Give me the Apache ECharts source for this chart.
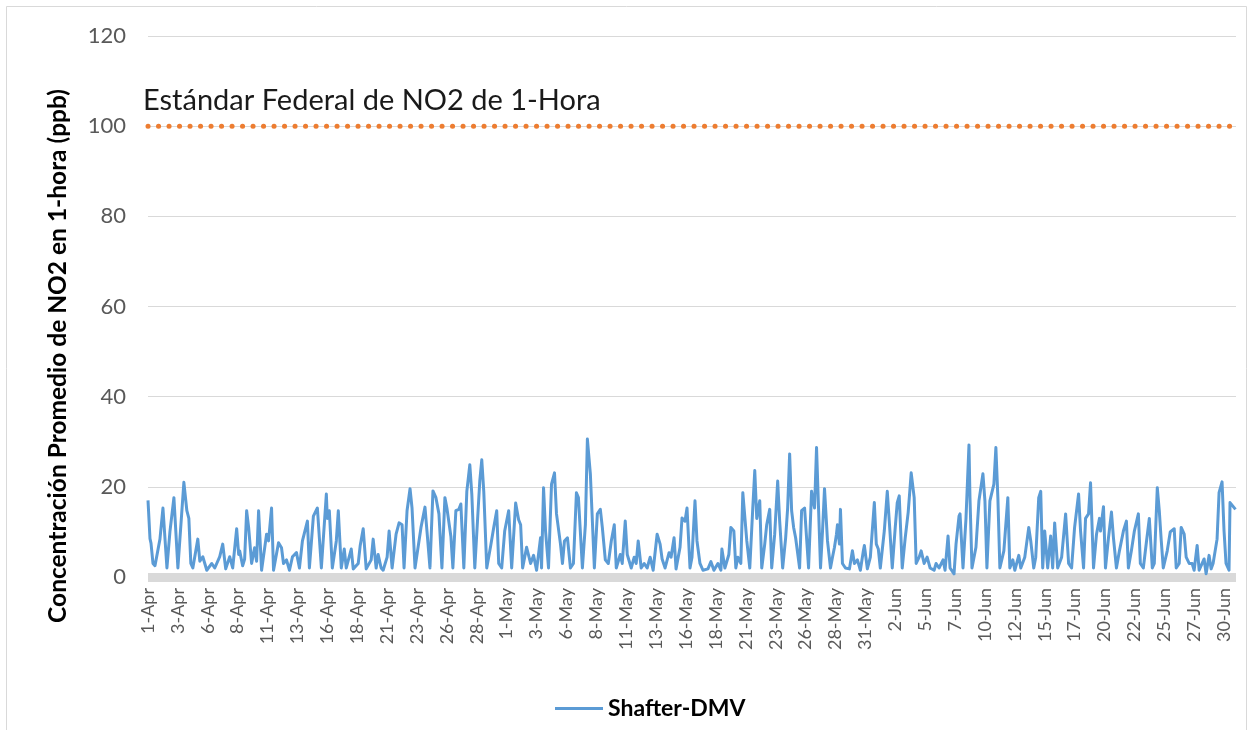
<!DOCTYPE html>
<html>
<head>
<meta charset="utf-8">
<title>Shafter-DMV NO2</title>
<script src="https://cdn.jsdelivr.net/npm/echarts@6/dist/echarts.min.js"></script>
<style>
  html, body { margin: 0; padding: 0; background: #fff; }
  #chart { width: 1252px; height: 730px; }
</style>
</head>
<body>
<div id="chart"></div>
<script>
// hora desde 1-Apr 00:00
const hours = [
  0,4,6,10,14,24,30,38,44,52,60,72,78,82,86,90,100,104,110,118,128,134,144,150,156,164,170,178,182,
  184,190,194,198,202,208,214,218,222,228,238,242,248,252,262,268,272,278,284,290,298,304,310,320,324,332,340,348,358,360,364,370,378,382,
  384,388,394,398,408,412,422,426,432,438,448,452,458,462,468,472,480,484,490,498,504,510,514,520,526,530,536,548,556,560,566,572,578,584,
  590,596,600,608,612,618,624,628,634,640,646,650,656,666,670,674,680,688,694,700,704,710,716,724,730,738,744,748,752,760,768,774,780,
  788,790,794,798,804,810,816,820,828,832,836,842,848,854,860,864,868,872,878,882,888,890,896,902,908,912,918,924,930,936,940,948,952,958,962,970,976,980,
  984,990,996,1002,1008,1014,1022,1028,1032,1038,1046,1050,1056,1060,1068,1072,1078,1082,1088,1092,1098,1102,1108,1114,1124,1130,1136,1144,1150,1152,1158,1166,1170,1176,1180,
  1184,1190,1194,1198,1202,1208,1214,1218,1222,1228,1232,1238,1242,1248,1252,1258,1264,1268,1274,1280,1284,1288,1292,1296,1300,1308,1312,1318,1320,1326,1332,1338,1342,1346,1350,1354,1358,1364,1370,1374,1378,1382,
  1384,1388,1390,1394,1400,1408,1414,1418,1424,1430,1436,1438,1444,1450,1458,1462,1466,1470,1478,1484,1488,1494,1500,1504,1508,1514,1520,1526,1530,1532,1538,1542,1548,1552,1558,1564,1570,1578,1582,
  1588,1596,1600,1606,1610,1618,1622,1628,1630,1636,1642,1648,1650,1654,1662,1668,1676,1680,1684,1690,1698,1702,1706,1710,1718,1726,1730,1736,1740,1748,1752,1760,1768,1772,1778,1782,
  1788,1792,1796,1800,1806,1812,1816,1820,1826,1834,1842,1848,1854,1860,1868,1872,1878,1882,1888,1892,1898,1904,1910,1912,1918,1922,1928,1934,1938,1944,1950,1958,1964,1968,1974,1980,
  1988,1992,1998,2004,2010,2016,2020,2026,2030,2034,2038,2046,2052,2060,2064,2070,2074,2080,2084,2090,2096,2100,2106,2110,2116,2120,2124,2130,2134,2138,2146,2150,2156,2160,2164,2170,2172,2183
]
// NO2 ppb, Shafter-DMV
const no2 = [
  17,8.5,7.5,3,2.5,8.4,15.3,2,10,17.6,2,21,14.7,13,3,2,8.4,3.5,4.5,1.5,3,2,4.5,7.3,1.8,4.5,2,10.7,5,
  5.8,2.5,4,14.7,11,3,6.5,3.5,14.7,1.5,9.5,8,15.3,1.5,7.6,6.5,3,3.8,1.5,4.5,5.4,2,8,12.4,2,13.5,15.3,2,18.4,13,14.7,2,8,14.7,
  14.5,2,6.2,2,6.2,1.8,3,7,10.7,1.8,3.8,8.4,2,5,2,1.5,4.4,10.2,2,9.5,12,11.6,2,14.7,19.6,15.3,2,11,15.5,10.2,2,19.1,17.6,14,
  2,17.6,15.3,9,2,14.7,15,16.2,2,19,24.9,18.4,2,21.3,26,19,2,7,11,14.7,3,2,10.2,14.7,2,16.4,12.7,11.6,2,6.6,3,4.8,1.5,
  8.7,2,19.8,10.2,2,20.6,23.1,14,7.3,3,8,8.7,2,3,18.7,17.6,17.3,2,11.6,30.6,22.8,17.6,2,14,15,11,3.8,3,8,11.6,2,5,3,12.4,5,2,4.4,3,
  8,2,3,2,4.4,1.5,9.5,7.3,4,2,5.4,4.4,8.7,1.8,6.6,13.1,12.4,15.3,2,4.4,16.9,8,3,1.5,1.8,3.4,1.5,3,1.5,6.2,2,5,11,10.2,2,
  4.4,3,18.7,18.4,8,2,15.3,23.6,13,16.9,2,7.3,11.6,15,2,9.5,21.3,12.4,2,8.7,15.3,27.3,14.7,11,8.7,2,14.7,15.3,15.6,2,19,15.3,28.7,15.3,2,10.2,19.6,8,2,4.4,6.6,9.5,
  11.6,7.3,15,3,2,1.8,5.8,3,3.8,1.5,5.8,7,1.8,4.4,16.5,7.3,6.2,2,10.2,19,12.4,2,11,16.5,18,2,8.7,14.4,14,23.1,17.6,3,4.4,5.8,3,4.4,2,1.5,3,
  2,3.8,1.5,9.1,2,0.7,7.3,13.5,14,2,13,29.3,17.6,2,6.6,16.9,22.9,16.9,2,16.9,20.6,28.7,17.6,2,5.8,17.6,2,3.8,1.5,4.8,2,4.4,11,8,2,4.4,
  17.6,19,2,10.2,2,9.1,2,12,2,4.4,14,3,2,11,18.4,10.2,2,13,14,20.9,2,9.5,13,10.2,15.6,2,8.7,14.4,8.7,2,5.8,10.2,12.4,2,5.8,10.2,
  14,3,2,7.6,13,2,3,19.8,14.7,8,2,5.8,10,10.7,2,3,11,9.5,4.4,3,3,1.5,7,1.5,3,4,0.7,4.8,1.8,3,8.4,18.7,21.1,10.2,3,1.5,16.5,15
]
// una etiqueta cada 60 horas
const tickLabels = [
  '1-Apr','3-Apr','6-Apr','8-Apr','11-Apr','13-Apr','16-Apr','18-Apr','21-Apr','23-Apr','26-Apr','28-Apr',
  '1-May','3-May','6-May','8-May','11-May','13-May','16-May','18-May','21-May','23-May','26-May','28-May','31-May',
  '2-Jun','5-Jun','7-Jun','10-Jun','12-Jun','15-Jun','17-Jun','20-Jun','22-Jun','25-Jun','27-Jun','30-Jun'
]
const totalHours = 2184
const standard = 100

const font = 'Lato, "Open Sans", sans-serif'
const chart = echarts.init(document.getElementById('chart'))

chart.setOption({
  animation: false,
  backgroundColor: '#fff',
  textStyle: { fontFamily: font },
  grid: { left: 148, right: 16, top: 36, bottom: 153 },
  legend: {
    data: ['Shafter-DMV'],
    left: 550,
    top: 692,
    icon: 'rect',
    itemWidth: 48,
    itemHeight: 3,
    itemGap: 8,
    textStyle: { fontSize: 23, fontWeight: 'bold', color: '#000', fontFamily: font }
  },
  xAxis: {
    type: 'value',
    min: 0,
    max: totalHours,
    interval: 60,
    offset: 3,
    axisLine: { show: true, lineStyle: { color: '#D9D9D9', width: 9, cap: 'butt' } },
    axisTick: { show: false },
    splitLine: { show: false },
    axisLabel: {
      rotate: 90,
      margin: 8,
      fontSize: 18,
      color: '#595959',
      fontFamily: font,
      showMaxLabel: false,
      formatter: function (v) {
        const k = v / 60
        return Number.isInteger(k) && tickLabels[k] ? tickLabels[k] : ''
      }
    }
  },
  yAxis: {
    type: 'value',
    min: 0,
    max: 120,
    interval: 20,
    axisLine: { show: false },
    axisTick: { show: false },
    splitLine: { lineStyle: { color: '#D9D9D9', width: 1 } },
    axisLabel: { fontSize: 22, color: '#595959', margin: 22, fontFamily: font }
  },
  graphic: [
    {
      type: 'rect',
      shape: { x: 6.5, y: 6.5, width: 1240, height: 740 },
      style: { fill: 'none', stroke: '#D9D9D9', lineWidth: 1 },
      silent: true
    },
    {
      type: 'text',
      x: 58,
      y: 356,
      rotation: Math.PI / 2,
      style: {
        text: 'Concentración Promedio de NO2 en 1-hora (ppb)',
        font: 'bold 24.5px ' + font,
        fill: '#000',
        textAlign: 'center',
        textVerticalAlign: 'middle'
      }
    },
    {
      type: 'text',
      x: 143,
      y: 101,
      style: {
        text: 'Estándar Federal de NO2 de 1-Hora',
        font: '29px ' + font,
        fill: '#1a1a1a',
        textAlign: 'left',
        textVerticalAlign: 'middle'
      }
    }
  ],
  series: [
    {
      name: 'Shafter-DMV',
      type: 'line',
      data: hours.map((h, i) => [h, no2[i]]),
      showSymbol: false,
      symbol: 'none',
      lineStyle: { color: '#5B9BD5', width: 3, join: 'round' },
      itemStyle: { color: '#5B9BD5' },
      z: 3
    },
    {
      name: 'Estándar',
      type: 'line',
      data: [[0, standard], [totalHours, standard]],
      showSymbol: false,
      symbol: 'none',
      lineStyle: { color: '#ED7D31', width: 5, type: [0.1, 10.4], cap: 'round' },
      z: 2
    }
  ]
})
</script>
</body>
</html>
